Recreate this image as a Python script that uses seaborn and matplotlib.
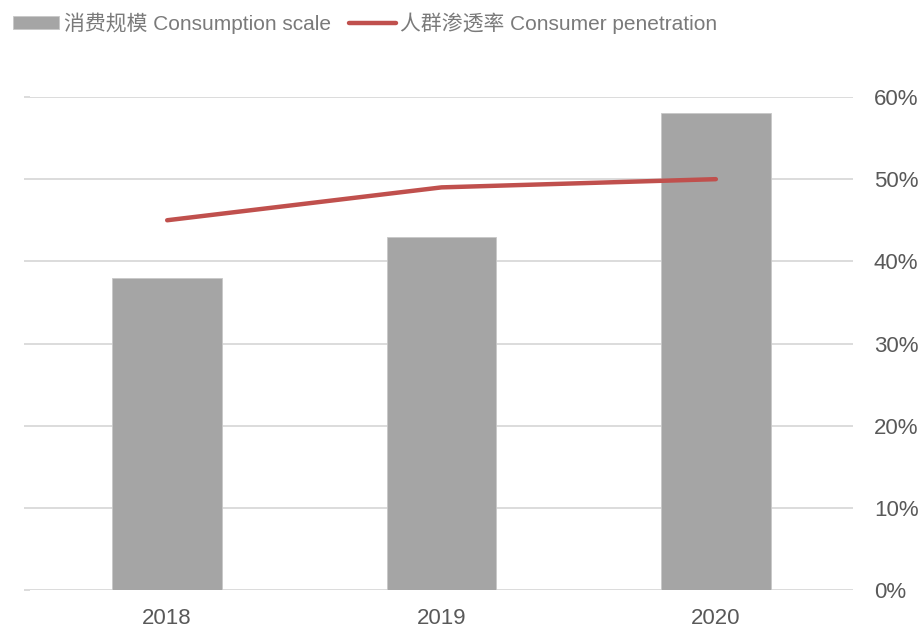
import numpy as np
import pandas as pd
import matplotlib
matplotlib.use("Agg")
import matplotlib.pyplot as plt
import seaborn as sns
from matplotlib.ticker import PercentFormatter

years = ["2018", "2019", "2020"]
consumption_scale = [38, 43, 58]
penetration = [0.45, 0.49, 0.50]
pct_ticks = [0.0, 0.1, 0.2, 0.3, 0.4, 0.5, 0.6]

bar_label = "消费规模 Consumption scale"
line_label = "人群渗透率 Consumer penetration"

sns.set_theme(style="white")
plt.rcParams["font.family"] = ["Liberation Sans", "Noto Sans CJK SC", "DejaVu Sans"]

df = pd.DataFrame({"year": years, "scale": consumption_scale, "pen": penetration})
df["pos"] = np.arange(len(years))

fig = plt.figure(figsize=(9.24, 6.28), dpi=100)
ax = fig.add_axes([30 / 924, 1 - 590 / 628, (853 - 30) / 924, (590 - 97) / 628])

sns.barplot(data=df, x="year", y="scale", color="#A5A5A5", width=0.4,
            saturation=1, ax=ax, zorder=3, label=bar_label,
            edgecolor="#C8C8C8", linewidth=0.6)
ax.set_ylim(0, 60)
ax.set_yticks(np.arange(0, 61, 10))
ax.set_xlim(-0.5, 2.5)
ax.grid(axis="y", color="#D9D9D9", linewidth=1.3)
ax.set_axisbelow(True)
ax.tick_params(axis="y", left=True, length=4, width=1.3, color="#D9D9D9",
               labelleft=False)
ax.tick_params(axis="x", length=0, pad=13, labelsize=16, labelcolor="#595959")
ax.set_xlabel("")
ax.set_ylabel("")
for s in ax.spines.values():
    s.set_visible(False)

ax2 = ax.twinx()
sns.lineplot(data=df, x="pos", y="pen", color="#C0504D", linewidth=3.2,
             ax=ax2, label=line_label, solid_capstyle="round")
ax2.set_ylim(0, 0.6)
ax2.set_yticks(pct_ticks)
ax2.yaxis.set_major_formatter(PercentFormatter(1.0, decimals=0))
ax2.tick_params(axis="y", length=0, pad=15, labelsize=16, labelcolor="#595959")
for lab in ax2.get_yticklabels():
    lab.set_horizontalalignment("left")
ax2.set_ylabel("")
ax2.set_xlabel("")
ax2.set_xlim(-0.5, 2.5)
for s in ax2.spines.values():
    s.set_visible(False)

h1, l1 = ax.get_legend_handles_labels()
h2, l2 = ax2.get_legend_handles_labels()
if ax.get_legend():
    ax.get_legend().remove()
if ax2.get_legend():
    ax2.get_legend().remove()
fig.legend(h1 + h2, l1 + l2, loc="upper left", bbox_to_anchor=(0.0, 1.0),
           ncol=2, frameon=False, fontsize=15, labelcolor="#7A7A7A",
           handlelength=2.25, handleheight=0.6, handletextpad=0.2,
           columnspacing=0.9, borderaxespad=0.3, borderpad=0.3)

fig.savefig("out.png", dpi=100)
